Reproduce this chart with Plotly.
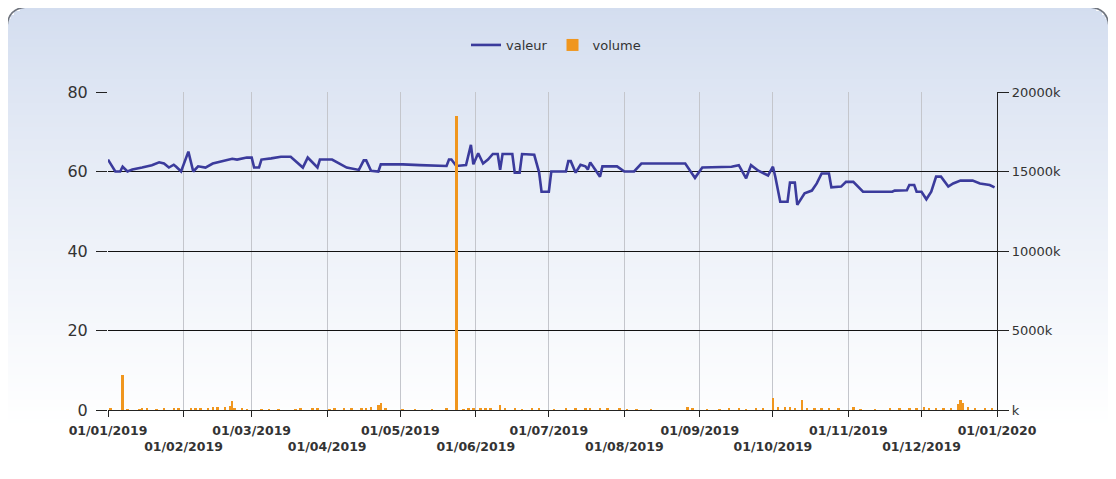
import plotly.graph_objects as go

# ---- data ----
valeur_dates = [
    "2019-01-01", "2019-01-04", "2019-01-06", "2019-01-07", "2019-01-09", "2019-01-11", "2019-01-15",
    "2019-01-19", "2019-01-22", "2019-01-24", "2019-01-26", "2019-01-28", "2019-01-29", "2019-01-31",
    "2019-02-03", "2019-02-05", "2019-02-07", "2019-02-10", "2019-02-13", "2019-02-17", "2019-02-21",
    "2019-02-23", "2019-02-27", "2019-03-01", "2019-03-02", "2019-03-04", "2019-03-05", "2019-03-09",
    "2019-03-13", "2019-03-17", "2019-03-22", "2019-03-24", "2019-03-28", "2019-03-29", "2019-04-03",
    "2019-04-09", "2019-04-14", "2019-04-16", "2019-04-17", "2019-04-19", "2019-04-22", "2019-04-23",
    "2019-05-02", "2019-05-09", "2019-05-20", "2019-05-21", "2019-05-22", "2019-05-24", "2019-05-28",
    "2019-05-30", "2019-05-31", "2019-06-02", "2019-06-04", "2019-06-06", "2019-06-08", "2019-06-10",
    "2019-06-11", "2019-06-12", "2019-06-16", "2019-06-17", "2019-06-19", "2019-06-20", "2019-06-25",
    "2019-06-27", "2019-06-28", "2019-07-01", "2019-07-02", "2019-07-08", "2019-07-09", "2019-07-10",
    "2019-07-12", "2019-07-14", "2019-07-16", "2019-07-17", "2019-07-18", "2019-07-20", "2019-07-22",
    "2019-07-23", "2019-07-29", "2019-08-01", "2019-08-05", "2019-08-08", "2019-08-26", "2019-08-30",
    "2019-09-02", "2019-09-14", "2019-09-17", "2019-09-20", "2019-09-22", "2019-09-25", "2019-09-29",
    "2019-10-01", "2019-10-02", "2019-10-04", "2019-10-07", "2019-10-08", "2019-10-10", "2019-10-11",
    "2019-10-14", "2019-10-17", "2019-10-19", "2019-10-21", "2019-10-24", "2019-10-25", "2019-10-29",
    "2019-10-31", "2019-11-03", "2019-11-07", "2019-11-19", "2019-11-20", "2019-11-25", "2019-11-26",
    "2019-11-28", "2019-11-29", "2019-12-01", "2019-12-03", "2019-12-05", "2019-12-07", "2019-12-09",
    "2019-12-12", "2019-12-14", "2019-12-17", "2019-12-22", "2019-12-25", "2019-12-27", "2019-12-29",
    "2019-12-31",
]
valeur_values = [
    63, 60, 60, 61.2, 60, 60.5, 61,
    61.6, 62.3, 62, 61, 61.7, 61.2, 60,
    65, 60, 61.3, 61, 62, 62.6, 63.2,
    63, 63.5, 63.5, 61, 61, 63, 63.3,
    63.7, 63.7, 61, 63.5, 61, 63, 63,
    61, 60.4, 62.8, 62.8, 60.2, 60, 61.8,
    61.8, 61.6, 61.4, 63, 63, 61.4, 61.6,
    66.7, 61.8, 64.6, 62, 63, 64.4, 64.4,
    60.4, 64.4, 64.4, 59.7, 59.7, 64.4, 64.2,
    59.8, 54.9, 54.9, 60, 60, 62.6, 62.6,
    59.7, 61.7, 61.3, 60.5, 62.3, 60.5, 58.7,
    61.3, 61.3, 60, 60, 62, 62, 58.4,
    61, 61.2, 61.6, 58.3, 61.6, 60.2, 59,
    61.2, 58.6, 52.4, 52.4, 57.2, 57.2, 51.6,
    54.5, 55.2, 57, 59.5, 59.5, 56, 56.2,
    57.4, 57.4, 54.9, 54.9, 55.2, 55.3, 56.6,
    56.6, 54.9, 54.9, 53, 54.9, 58.7, 58.7,
    56.2, 57, 57.7, 57.7, 57, 56.8, 56.6,
    56,
]

volume_dates = [
    "2019-01-02", "2019-01-07", "2019-01-09", "2019-01-14", "2019-01-15", "2019-01-17", "2019-01-21",
    "2019-01-24", "2019-01-28", "2019-01-30",
    "2019-02-04", "2019-02-06", "2019-02-08", "2019-02-11", "2019-02-13", "2019-02-15", "2019-02-18",
    "2019-02-20", "2019-02-21", "2019-02-22", "2019-02-25", "2019-02-27",
    "2019-03-05", "2019-03-08", "2019-03-12", "2019-03-19", "2019-03-21", "2019-03-26", "2019-03-28",
    "2019-04-02", "2019-04-04", "2019-04-08", "2019-04-11", "2019-04-15", "2019-04-17", "2019-04-19",
    "2019-04-22", "2019-04-23", "2019-04-25",
    "2019-05-02", "2019-05-07", "2019-05-14", "2019-05-20", "2019-05-24", "2019-05-27", "2019-05-29",
    "2019-05-31",
    "2019-06-03", "2019-06-05", "2019-06-07", "2019-06-11", "2019-06-13", "2019-06-17", "2019-06-20",
    "2019-06-24", "2019-06-27",
    "2019-07-03", "2019-07-08", "2019-07-12", "2019-07-16", "2019-07-18", "2019-07-22", "2019-07-25",
    "2019-07-30",
    "2019-08-02", "2019-08-06", "2019-08-12", "2019-08-27", "2019-08-29",
    "2019-09-04", "2019-09-09", "2019-09-13", "2019-09-17", "2019-09-20", "2019-09-24", "2019-09-27",
    "2019-10-01", "2019-10-03", "2019-10-06", "2019-10-08", "2019-10-10", "2019-10-13", "2019-10-15",
    "2019-10-18", "2019-10-21", "2019-10-24", "2019-10-28",
    "2019-11-03", "2019-11-06", "2019-11-12", "2019-11-18", "2019-11-22", "2019-11-26", "2019-11-29",
    "2019-12-02", "2019-12-04", "2019-12-07", "2019-12-10", "2019-12-13", "2019-12-16", "2019-12-17",
    "2019-12-18", "2019-12-20", "2019-12-23", "2019-12-27", "2019-12-30",
]
volume_values = [
    80, 2200, 60, 50, 120, 100, 60,
    80, 70, 90,
    120, 90, 110, 150, 180, 200, 160,
    250, 560, 120, 80, 60,
    50, 40, 60, 50, 150, 80, 100,
    60, 90, 120, 90, 140, 100, 160,
    300, 450, 80,
    60, 50, 40, 70, 18500, 60, 100,
    90,
    110, 80, 140, 300, 100, 90, 60,
    80, 70,
    60, 90, 70, 100, 80, 90, 70,
    120,
    50, 60, 40, 180, 90,
    60, 50, 70, 80, 60, 90, 100,
    750, 200, 160, 220, 150, 620, 140,
    100, 90, 80, 100,
    180, 60, 50, 70, 80, 90, 150,
    180, 120, 80, 90, 100, 380, 600,
    420, 200, 120, 90, 80,
]

month_ticks = ["2019-%02d-01" % m for m in range(1, 13)] + ["2020-01-01"]
month_labels = ["01/01/2019", "01/02/2019", "01/03/2019", "01/04/2019", "01/05/2019", "01/06/2019",
                "01/07/2019", "01/08/2019", "01/09/2019", "01/10/2019", "01/11/2019", "01/12/2019",
                "01/01/2020"]
left_ticks = [0, 20, 40, 60, 80]
right_ticks = [0, 5000, 10000, 15000, 20000]
right_labels = ["k", "5000k", "10000k", "15000k", "20000k"]

# ---- geometry (screen pixels; the page body adds an 8px offset) ----
OFF = 8
W, H = 1116 - OFF, 479 - OFF
L, R, T, B = 108 - OFF, 997 - OFF, 92 - OFF, 410 - OFF


def px(x):
    return (x - OFF - L) / (R - L)


def py(y):
    return (B - (y - OFF)) / (B - T)


ticktext = [lab if i % 2 == 0 else "<br>" + lab for i, lab in enumerate(month_labels)]

fig = go.Figure()
fig.add_trace(go.Scatter(
    x=valeur_dates, y=valeur_values, name="valeur", mode="lines",
    line=dict(color="#3b3b9c", width=2.6), yaxis="y",
))
fig.add_trace(go.Bar(
    x=volume_dates, y=volume_values, name="volume", yaxis="y2",
    marker=dict(color="#f0961e", line=dict(width=0)), width=86400000 * 1.0,
))

# background gradient inside rounded box
shapes = []
bx0, bx1, by0, by1, rad = 7, 1109, 7, 520, 22
top_c = (211, 221, 239)
step = 4
yy = by0
while yy < 479:
    t = min(1.0, max(0.0, (yy - by0) / (425 - by0)))
    t = t ** 0.85
    c = tuple(int(round(top_c[i] + (255 - top_c[i]) * t)) for i in range(3))
    inset = 0
    d = yy + step / 2 - by0
    if d < rad:
        inset = rad - (rad ** 2 - (rad - d) ** 2) ** 0.5
    shapes.append(dict(
        type="rect", xref="paper", yref="paper", layer="below",
        x0=px(bx0 + inset), x1=px(bx1 - inset), y0=py(yy + step), y1=py(yy),
        fillcolor="rgb(%d,%d,%d)" % c, line=dict(width=0),
    ))
    yy += step

pth = "M {a},{b} L {a},{c} Q {a},{d} {e},{d} L {f},{d} Q {g},{d} {g},{c} L {g},{b}".format(
    a=px(bx0), b=py(by1), c=py(by0 + rad), d=py(by0), e=px(bx0 + rad), f=px(bx1 - rad), g=px(bx1))
shapes.append(dict(type="path", xref="paper", yref="paper", layer="below", path=pth,
                   line=dict(color="#6f747e", width=1.6)))

font_fam = "DejaVu Sans"
fig.update_layout(
    width=W, height=H,
    margin=dict(l=L, r=W - R, t=T, b=H - B, autoexpand=False),
    paper_bgcolor="white", plot_bgcolor="rgba(0,0,0,0)",
    shapes=shapes,
    showlegend=True,
    legend=dict(orientation="h", x=px(556), xanchor="center", y=py(45), yanchor="middle",
                font=dict(family=font_fam, size=13, color="#333"), bgcolor="rgba(0,0,0,0)",
                itemwidth=30),
    bargap=0,
    xaxis=dict(
        type="date", range=["2019-01-01", "2020-01-01"],
        tickmode="array", tickvals=month_ticks, ticktext=ticktext, tickangle=0,
        showgrid=True, gridcolor="#c4c6cc", gridwidth=1,
        showline=True, linecolor="#222", linewidth=1.2,
        ticks="outside", ticklen=6, tickcolor="#222", ticklabelstandoff=3,
        tickfont=dict(family=font_fam, size=12.5, color="#333", weight="bold"),
        zeroline=False,
    ),
    yaxis=dict(
        range=[0, 80], tickmode="array", tickvals=left_ticks,
        showgrid=True, gridcolor="#111", gridwidth=1,
        showline=False, zeroline=False,
        ticks="outside", ticklen=11, tickcolor="#222", ticklabelstandoff=5,
        tickfont=dict(family=font_fam, size=16, color="#333"),
    ),
    yaxis2=dict(
        range=[0, 20000], overlaying="y", side="right",
        tickmode="array", tickvals=right_ticks, ticktext=right_labels,
        showgrid=False, zeroline=False,
        showline=True, linecolor="#222", linewidth=1.2,
        ticks="outside", ticklen=11, tickcolor="#222",
        tickfont=dict(family=font_fam, size=13, color="#333"),
    ),
)

fig.write_html("out.html")
